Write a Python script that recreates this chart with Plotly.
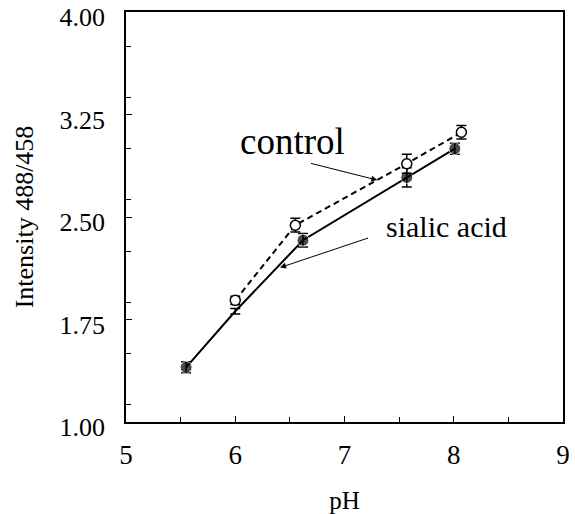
import plotly.graph_objects as go

# Data
ph_control = [6.00, 6.55, 7.57, 8.07]
int_control = [1.89, 2.44, 2.89, 3.12]
err_control = [0.03, 0.05, 0.07, 0.05]

ph_sialic = [5.55, 6.00, 6.62, 7.57, 8.01]
int_sialic = [1.40, 1.81, 2.33, 2.79, 3.00]
err_sialic = [0.04, 0.02, 0.05, 0.07, 0.04]

x_ticks = [5, 6, 7, 8, 9]
y_ticks = [1.00, 1.75, 2.50, 3.25, 4.00]

FONT = "Liberation Serif, Times New Roman, serif"

fig = go.Figure()
fig.add_trace(go.Scatter(
    x=ph_sialic, y=int_sialic, mode="lines+markers",
    line=dict(color="black", width=2),
    marker=dict(color="black", size=[12, 0, 12, 12, 12], symbol="circle"),
    error_y=dict(type="data", array=err_sialic, color="black", thickness=1.5, width=5),
    name="sialic acid", showlegend=False))
fig.add_trace(go.Scatter(
    x=ph_control, y=int_control, mode="lines+markers",
    line=dict(color="black", width=2, dash="6px,4px"),
    marker=dict(color="white", size=10, symbol="circle",
                line=dict(color="black", width=1.5)),
    error_y=dict(type="data", array=err_control, color="black", thickness=1.5, width=5),
    name="control", showlegend=False))

# Labels and arrows
fig.add_annotation(x=6.52, y=3.05, text="control", showarrow=False,
                   font=dict(family=FONT, size=37, color="black"))
fig.add_annotation(x=7.30, y=2.77, ax=6.68, ay=2.895, axref="x", ayref="y",
                   text="", showarrow=True, arrowhead=2, arrowsize=1.2,
                   arrowwidth=1, arrowcolor="black")
fig.add_annotation(x=7.93, y=2.43, text="sialic acid", showarrow=False,
                   font=dict(family=FONT, size=30, color="black"))
fig.add_annotation(x=6.41, y=2.13, ax=7.23, ay=2.35, axref="x", ayref="y",
                   text="", showarrow=True, arrowhead=2, arrowsize=1.2,
                   arrowwidth=1, arrowcolor="black")

fig.update_layout(
    width=575, height=514,
    margin=dict(l=126, r=12, t=12, b=92, autoexpand=False),
    plot_bgcolor="white", paper_bgcolor="white",
    font=dict(family=FONT, color="black", size=24),
)
fig.update_xaxes(
    range=[5, 9], tickvals=x_ticks, ticks="inside", ticklen=6, tickcolor="black",
    showline=True, linecolor="black", linewidth=1.5, mirror=True,
    showgrid=False, zeroline=False, automargin=False, ticklabeloverflow="allow",
    minor=dict(dtick=0.5, ticks="inside", ticklen=5, tickcolor="black"),
    tickfont=dict(family=FONT, size=27), ticklabelstandoff=8,
    title=dict(text="pH", font=dict(family=FONT, size=25), standoff=25),
)
fig.update_yaxes(
    range=[1, 4], tickvals=y_ticks, tickformat=".2f", ticks="inside", ticklen=6,
    tickcolor="black", showline=True, linecolor="black", linewidth=1.5, mirror=True,
    showgrid=False, zeroline=False, automargin=False, ticklabeloverflow="allow",
    minor=dict(dtick=0.375, ticks="inside", ticklen=5, tickcolor="black"),
    tickfont=dict(family=FONT, size=26), ticklabelstandoff=14, ticklabelshift=5,
    title=dict(text="Intensity 488/458", font=dict(family=FONT, size=26), standoff=18),
)

fig.write_html("out.html")
